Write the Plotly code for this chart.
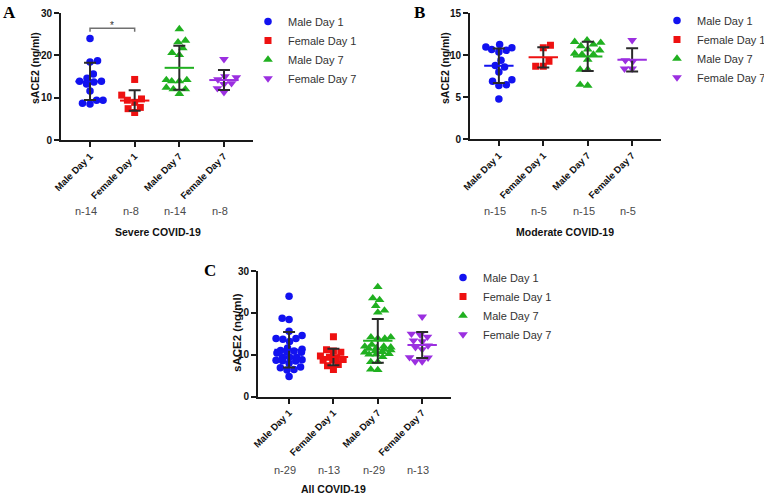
import math
import numpy as np
import plotly.graph_objects as go

# ---------------- data ----------------
categories = ["Male Day 1", "Female Day 1", "Male Day 7", "Female Day 7"]

# Severe COVID-19 (panel A)
sev_male_d1 = [24.0, 18.7, 18.4, 15.6, 14.6, 13.9, 13.9, 13.7, 13.2, 11.6, 9.4, 9.4, 8.7, 8.5]
sev_female_d1 = [14.3, 10.6, 9.7, 9.4, 8.9, 7.7, 7.4, 6.5]
sev_male_d7 = [26.2, 23.5, 23.1, 21.7, 20.6, 20.1, 14.2, 14.2, 13.9, 13.9, 12.4, 12.0, 12.0, 10.9]
sev_female_d7 = [19.1, 15.0, 14.8, 14.3, 13.4, 13.2, 12.2, 11.3]

# Moderate COVID-19 (panel B)
mod_male_d1 = [11.3, 11.0, 10.9, 10.7, 10.6, 10.4, 9.4, 8.8, 8.6, 8.0, 7.1, 6.9, 6.5, 6.4, 4.8]
mod_female_d1 = [11.2, 10.9, 9.3, 8.7, 8.7]
mod_male_d7 = [11.8, 11.6, 11.5, 11.3, 11.1, 10.7, 10.6, 10.2, 10.1, 10.1, 9.5, 8.3, 8.3, 6.5, 6.4]
mod_female_d7 = [11.8, 9.4, 9.3, 8.4, 8.4]

# All COVID-19 (panel C) = severe + moderate
all_male_d1 = sev_male_d1 + mod_male_d1
all_female_d1 = sev_female_d1 + mod_female_d1
all_male_d7 = sev_male_d7 + mod_male_d7
all_female_d7 = sev_female_d7 + mod_female_d7

panel_titles = ["Severe COVID-19", "Moderate COVID-19", "All COVID-19"]
panel_letters = ["A", "B", "C"]
y_ticks_A = [0, 10, 20, 30]
y_ticks_B = [0, 5, 10, 15]
y_ticks_C = [0, 10, 20, 30]
sig_pair = (0, 1)      # Male Day 1 vs Female Day 1 in panel A
sig_level = 26.4
sig_label = "*"

# ---------------- styling ----------------
W, H = 764, 497
colors = ["#1212f0", "#ee1111", "#20b020", "#9b2fe0"]
symbols = ["circle", "square", "triangle-up", "triangle-down"]
msizes = [7.5, 7, 8.5, 8.5]
FONT = "Arial, Liberation Sans, sans-serif"


def px(x):
    return x / W


def py(y):
    return 1 - y / H


panels = [
    dict(data=[sev_male_d1, sev_female_d1, sev_male_d7, sev_female_d7], ticks=y_ticks_A,
         xd=(61, 253), yd=(13, 140), xr=(-0.65, 3.65), ylab=(35, 68), ylfs=10.5,
         letter=(9, 13), nlab_y=211, title=(158, 232), D=7.6,
         legend=dict(x=286, y=19)),
    dict(data=[mod_male_d1, mod_female_d1, mod_male_d7, mod_female_d7], ticks=y_ticks_B,
         xd=(470, 661), yd=(13.3, 139.3), xr=(-0.65, 3.65), ylab=(445, 68), ylfs=10.5,
         letter=(419, 13), nlab_y=211, title=(565, 232), D=7.6,
         legend=dict(x=695, y=18)),
    dict(data=[all_male_d1, all_female_d1, all_male_d7, all_female_d7], ticks=y_ticks_C,
         xd=(258, 451), yd=(271, 396.7), xr=(-0.7, 3.65), ylab=(237, 332), ylfs=11.5,
         letter=(210, 270), nlab_y=470, title=(333, 489), D=7.0,
         legend=dict(x=481, y=275)),
]


def swarm(vals, ppu, D=7.6, maxw=13.0):
    order = sorted(range(len(vals)), key=lambda i: vals[i])
    placed = []
    xs = [0.0] * len(vals)
    grid = [i * 0.5 for i in range(-int(2 * maxw), int(2 * maxw) + 1)]
    for k, i in enumerate(order):
        y = vals[i] * ppu
        iv = []
        for (qx, qy) in placed:
            dy = abs(qy - y)
            if dy < D:
                w = math.sqrt(D * D - dy * dy)
                iv.append((qx - w, qx + w))
        cands = [0.0] + [a for a, b in iv] + [b for a, b in iv]
        cands = [c for c in cands if abs(c) <= maxw]
        sign = 1 if k % 2 == 0 else -1
        cands.sort(key=lambda c: (round(abs(c), 6), -sign * c))
        chosen = None
        for c in cands:
            if all(not (a + 1e-6 < c < b - 1e-6) for a, b in iv):
                chosen = c
                break
        if chosen is None:
            def cost(c):
                s = 0.0
                for (qx, qy) in placed:
                    d = math.hypot(qx - c, qy - y)
                    s += max(0.0, D - d)
                return s
            chosen = min(grid, key=lambda c: (round(cost(c), 3), abs(c)))
        xs[i] = chosen
        placed.append((chosen, y))
    return xs


fig = go.Figure()
annotations = []
shapes = []
layout_axes = {}

for p_i, P in enumerate(panels):
    sfx = "" if p_i == 0 else str(p_i + 1)
    xa, ya = "x" + sfx, "y" + sfx
    legname = "legend" + sfx
    ymax = P["ticks"][-1]
    ppu = (P["yd"][1] - P["yd"][0]) / ymax
    ppc = (P["xd"][1] - P["xd"][0]) / (P["xr"][1] - P["xr"][0])

    for g, vals in enumerate(P["data"]):
        offs = swarm(vals, ppu, D=P["D"])
        xs = [g + o / ppc for o in offs]
        fig.add_trace(go.Scatter(
            x=xs, y=vals, mode="markers", name=categories[g],
            marker=dict(symbol=symbols[g], size=msizes[g], color=colors[g], line=dict(width=0)),
            xaxis=xa, yaxis=ya, legend=legname, showlegend=True, hoverinfo="y"))
    for g, vals in enumerate(P["data"]):
        m = float(np.mean(vals))
        sd = float(np.std(vals, ddof=1))
        fig.add_trace(go.Scatter(
            x=[g], y=[m], mode="markers",
            marker=dict(symbol="line-ew-open", size=21, color=colors[g],
                        line=dict(width=2, color=colors[g])),
            error_y=dict(type="data", array=[sd], symmetric=True, color="#2a2a2a",
                         thickness=2, width=6),
            xaxis=xa, yaxis=ya, showlegend=False, hoverinfo="skip"))

    layout_axes["xaxis" + sfx] = dict(
        domain=[px(P["xd"][0]), px(P["xd"][1])], range=list(P["xr"]), anchor=ya,
        tickvals=list(range(len(categories))), ticktext=categories, tickangle=-45,
        tickfont=dict(family=FONT, size=9.5, color="#111", weight="bold"),
        showline=True, linecolor="#1a1a1a", linewidth=1.8, ticks="outside", ticklen=5,
        tickwidth=1.8, tickcolor="#1a1a1a", showgrid=False, zeroline=False, fixedrange=True)
    layout_axes["yaxis" + sfx] = dict(
        domain=[py(P["yd"][1]), py(P["yd"][0])], range=[0, ymax], anchor=xa,
        tickvals=P["ticks"], tickfont=dict(family=FONT, size=10, color="#111", weight="bold"),
        showline=True, linecolor="#1a1a1a", linewidth=1.8, ticks="outside", ticklen=5,
        tickwidth=1.8, tickcolor="#1a1a1a", showgrid=False, zeroline=False, fixedrange=True)

    # y axis title
    annotations.append(dict(text="sACE2 (ng/ml)", textangle=-90, xref="paper", yref="paper",
                            x=px(P["ylab"][0]), y=py(P["ylab"][1]), xanchor="center",
                            yanchor="middle", showarrow=False,
                            font=dict(family=FONT, size=P["ylfs"], color="#111", weight="bold")))
    # panel letter
    annotations.append(dict(text="<b>%s</b>" % panel_letters[p_i], xref="paper", yref="paper",
                            x=px(P["letter"][0]), y=py(P["letter"][1]), xanchor="center",
                            yanchor="middle", showarrow=False,
                            font=dict(family="Liberation Serif, Times New Roman, serif", size=17,
                                      color="#000")))
    # n labels
    for g, vals in enumerate(P["data"]):
        annotations.append(dict(text="n-%d" % len(vals), xref=xa, yref="paper", x=g,
                                y=py(P["nlab_y"]), xanchor="center", yanchor="middle",
                                xshift=-4, showarrow=False,
                                font=dict(family=FONT, size=11, color="#4a4a4a")))
    # panel title
    annotations.append(dict(text=panel_titles[p_i], xref="paper", yref="paper",
                            x=px(P["title"][0]), y=py(P["title"][1]), xanchor="center",
                            yanchor="middle", showarrow=False,
                            font=dict(family=FONT, size=10.5, color="#111", weight="bold")))
    # legend (x = where the entry text starts, y = first row)
    L = P["legend"]
    layout_axes[legname] = dict(
        x=px(L["x"] - 38), y=py(L["y"] - 12), xanchor="left", yanchor="top",
        bgcolor="rgba(0,0,0,0)", borderwidth=0,
        font=dict(family=FONT, size=11, color="#333"), itemclick=False, itemdoubleclick=False)

# significance bracket (panel A)
a, b = sig_pair
tick_drop = 0.8
shapes.append(dict(type="path", xref="x", yref="y",
                   path="M %f,%f L %f,%f L %f,%f L %f,%f" % (a, sig_level - tick_drop, a, sig_level,
                                                              b, sig_level, b, sig_level - tick_drop),
                   line=dict(color="#707070", width=1.5)))
annotations.append(dict(text=sig_label, xref="x", yref="y", x=(a + b) / 2, y=sig_level,
                        xanchor="center", yanchor="bottom", yshift=-5, showarrow=False,
                        font=dict(family=FONT, size=10, color="#333")))

fig.update_layout(
    width=W, height=H, margin=dict(l=0, r=0, t=0, b=0, autoexpand=False),
    paper_bgcolor="white", plot_bgcolor="white",
    annotations=annotations, shapes=shapes, **layout_axes)

fig.write_html("out.html", config={"displayModeBar": False},
               post_script="document.body.style.margin='0';document.body.style.padding='0';")
